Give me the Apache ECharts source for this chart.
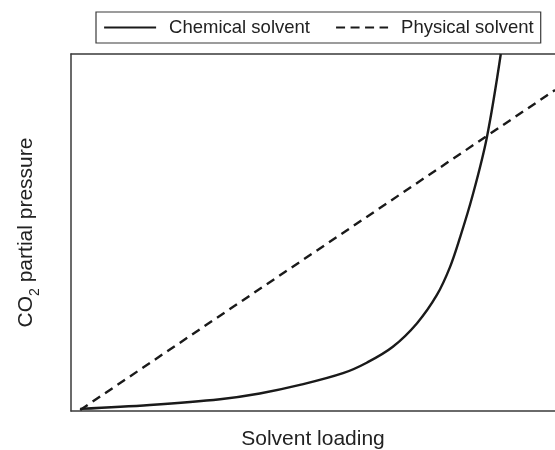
<!DOCTYPE html>
<html>
<head>
<meta charset="utf-8">
<script src="https://cdn.jsdelivr.net/npm/echarts@6/dist/echarts.min.js"></script>
<style>html,body{margin:0;padding:0;background:#fff;}#c{width:555px;height:450px;}</style>
</head>
<body>
<div id="c"></div>
<script>
const seriesNames = ['Chemical solvent', 'Physical solvent'];
const chemicalX = [1.9, 16.3, 30.8, 39.0, 47.3, 56.2, 61.2, 66.5, 71.5, 75.6, 78.3, 80.4, 82.9, 85.9, 88.8];
const chemicalY = [0.6, 1.7, 3.3, 4.9, 7.3, 10.6, 13.6, 18.0, 24.6, 32.5, 40.3, 48.7, 60.0, 76.5, 100];
const physicalX = [1.9, 100];
const physicalY = [0.3, 89.9];
const xAxisName = 'Solvent loading';
const yAxisName = '{a|CO}{s|2}{a| partial pressure}';

const chart = echarts.init(document.getElementById('c'), null, {renderer: 'canvas'});
const font = 'Liberation Sans, Arial, Helvetica, sans-serif';
const axisCol = '#3a3a3a';
const lineCol = '#1a1a1a';
chart.setOption({
  animation: false,
  textStyle: {fontFamily: font},
  grid: {left: 71, right: 0, top: 54, bottom: 39, outerBoundsMode: 'none', containLabel: false},
  legend: {
    left: 96, top: 12,
    padding: [6, 7, 6, 7],
    borderColor: axisCol, borderWidth: 1.2,
    itemWidth: 52, itemHeight: 14, itemGap: 25,
    itemStyle: {opacity: 0},
    textStyle: {fontSize: 18.5, color: '#222', fontFamily: font, padding: [0, 0, 0, 8]},
    data: [
      {name: seriesNames[0], lineStyle: {type: 'solid', width: 2.2}},
      {name: seriesNames[1], lineStyle: {type: [9, 5.5], width: 2.2}}
    ]
  },
  xAxis: [{
    type: 'value', min: 0, max: 100, position: 'bottom',
    name: xAxisName, nameLocation: 'middle', nameGap: 18,
    nameTextStyle: {fontSize: 21, color: '#222', fontFamily: font},
    axisLine: {show: true, onZero: false, lineStyle: {color: axisCol, width: 1.5}},
    axisTick: {show: false}, axisLabel: {show: false}, splitLine: {show: false}
  }, {
    type: 'value', min: 0, max: 100, position: 'top',
    axisLine: {show: true, onZero: false, lineStyle: {color: axisCol, width: 1.5}},
    axisTick: {show: false}, axisLabel: {show: false}, splitLine: {show: false}
  }],
  yAxis: {
    type: 'value', min: 0, max: 100,
    name: yAxisName, nameLocation: 'middle', nameGap: 34,
    nameTextStyle: {
      fontFamily: font,
      rich: {
        a: {fontSize: 21, color: '#222', fontFamily: font, verticalAlign: 'bottom', lineHeight: 24},
        s: {fontSize: 14, color: '#222', fontFamily: font, verticalAlign: 'bottom', lineHeight: 24, padding: [0, 0, -5, 0]}
      }
    },
    axisLine: {show: true, onZero: false, lineStyle: {color: axisCol, width: 1.5}},
    axisTick: {show: false}, axisLabel: {show: false}, splitLine: {show: false}
  },
  series: [{
    name: seriesNames[0], type: 'line', symbol: 'none', smooth: 0.35,
    data: chemicalX.map((x, i) => [x, chemicalY[i]]),
    lineStyle: {color: lineCol, width: 2.4},
    itemStyle: {color: lineCol}
  }, {
    name: seriesNames[1], type: 'line', symbol: 'none',
    data: physicalX.map((x, i) => [x, physicalY[i]]),
    lineStyle: {color: lineCol, width: 2.4, type: [9, 6]},
    itemStyle: {color: lineCol}
  }]
});
</script>
</body>
</html>
